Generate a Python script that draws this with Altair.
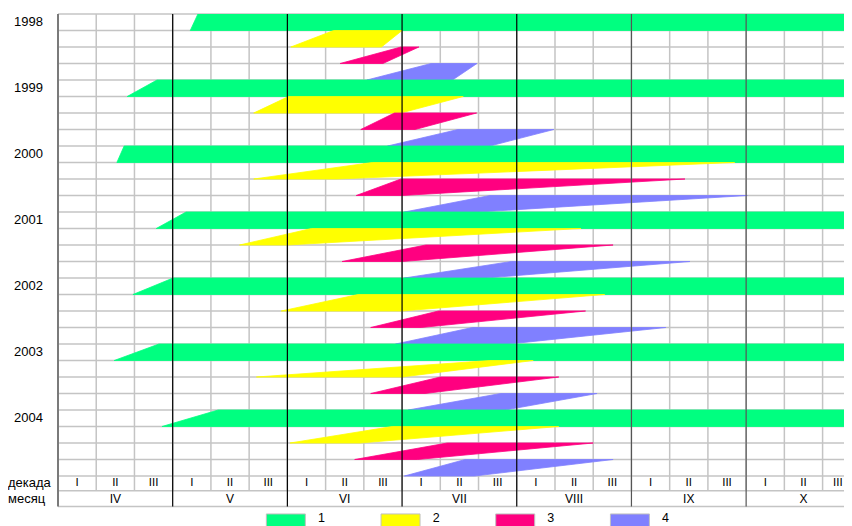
import altair as alt
import pandas as pd

# ---------------- data (positions in decades from 1 April) ----------------
years = ["1998", "1999", "2000", "2001", "2002", "2003", "2004"]
series_names = ["1", "2", "3", "4"]
series_colors = ["#00FF80", "#FFFF00", "#FF0080", "#8080FF"]
season_end = 21.0

# series 1 (green): start at bottom edge / start at top edge, lasts to end of season
s1_bottom_start = [3.46, 1.81, 1.54, 2.57, 1.96, 1.47, 2.72]
s1_top_start = [3.66, 2.59, 1.73, 3.35, 3.01, 2.64, 4.19]

# series 2 (yellow)
s2_bottom_start = [6.09, 5.12, 5.12, 4.75, 5.84, 5.19, 6.07]
s2_top_start = [7.21, 6.03, 8.22, 6.63, 7.85, 11.30, 8.74]
s2_top_end = [9.00, 10.60, 17.70, 13.68, 14.30, 12.43, 13.10]
s2_bottom_end = [8.46, 8.97, 7.30, 6.00, 9.00, 9.00, 7.90]

# series 3 (pink)
s3_bottom_start = [7.38, 7.92, 7.80, 7.43, 8.18, 8.18, 7.76]
s3_top_start = [8.97, 8.80, 8.97, 9.62, 9.95, 10.00, 10.18]
s3_top_end = [9.44, 10.95, 16.40, 14.52, 13.80, 13.10, 14.00]
s3_bottom_end = [8.50, 9.34, 9.00, 9.00, 9.50, 9.60, 9.40]

# series 4 (blue)
s4_bottom_start = [8.08, 8.62, 9.06, 9.06, 8.83, 9.16, 9.06]
s4_top_start = [9.76, 10.46, 11.30, 11.86, 10.84, 11.58, 10.65]
s4_top_end = [10.96, 12.97, 18.03, 16.53, 15.90, 14.10, 14.52]
s4_bottom_end = [10.32, 11.30, 11.00, 11.20, 11.80, 11.70, 10.90]

decade_labels = ["I", "II", "III"]
month_labels = ["IV", "V", "VI", "VII", "VIII", "IX", "X"]
row_labels = ["декада", "месяц"]

# ---------------- layout ----------------
W, H = 786, 495
X_MAX = 20.56
Y_MAX = 30.0
n_rows = len(years) * 4
decade_row_bottom = 28.9
month_row_bottom = 29.85

x_scale = alt.Scale(domain=[0, X_MAX], nice=False, zero=False)
y_scale = alt.Scale(domain=[0, Y_MAX], reverse=True, nice=False, zero=False)

# ---------------- shapes table ----------------
recs = []
groups = [
    (s1_bottom_start, s1_top_start, [season_end] * 7, [season_end] * 7),
    (s2_bottom_start, s2_top_start, s2_top_end, s2_bottom_end),
    (s3_bottom_start, s3_top_start, s3_top_end, s3_bottom_end),
    (s4_bottom_start, s4_top_start, s4_top_end, s4_bottom_end),
]
for yi, yr in enumerate(years):
    for si, (bs, ts, te, be) in enumerate(groups):
        row = yi * 4 + si
        sid = f"{yr}-{si}"
        recs.append(dict(shape=sid, series=series_names[si], y=row + 1, x=bs[yi], x2=be[yi]))
        recs.append(dict(shape=sid, series=series_names[si], y=row, x=ts[yi], x2=te[yi]))
shapes = pd.DataFrame(recs)

color_scale = alt.Scale(domain=series_names, range=series_colors)

areas = alt.Chart(shapes).mark_area(orient="horizontal", clip=True, strokeWidth=0.8,
                                    opacity=1).encode(
    y=alt.Y("y:Q", scale=y_scale, axis=None),
    x=alt.X("x:Q", scale=x_scale, axis=None),
    x2="x2:Q",
    detail="shape:N",
    color=alt.Color("series:N", scale=color_scale, legend=None),
    stroke=alt.Stroke("series:N", scale=color_scale, legend=None),
)

# ---------------- grid ----------------
hlines = pd.DataFrame({"y": list(range(0, n_rows + 1)) + [decade_row_bottom, month_row_bottom]})
h_rules = alt.Chart(hlines).mark_rule(color="#c4c4c4", strokeWidth=1.5).encode(
    y=alt.Y("y:Q", scale=y_scale, axis=None)
)

vgray = pd.DataFrame({"x": list(range(1, 21)), "y0": 0.0, "y1": decade_row_bottom})
v_gray = alt.Chart(vgray).mark_rule(color="#c4c4c4", strokeWidth=1.5, clip=True).encode(
    x=alt.X("x:Q", scale=x_scale, axis=None),
    y=alt.Y("y0:Q", scale=y_scale, axis=None),
    y2="y1:Q",
)

vmonth = pd.DataFrame({"x": [3, 6, 9, 12, 15, 18], "y0": 0.0, "y1": month_row_bottom,
                       "c": ["#000000", "#000000", "#000000", "#000000", "#555555", "#555555"]})
v_month = alt.Chart(vmonth).mark_rule(strokeWidth=1.2).encode(
    x=alt.X("x:Q", scale=x_scale, axis=None),
    y=alt.Y("y0:Q", scale=y_scale, axis=None),
    y2="y1:Q",
    color=alt.Color("c:N", scale=None, legend=None),
)

vleft = pd.DataFrame({"x": [0.0], "y0": [0.0], "y1": [month_row_bottom]})
v_left = alt.Chart(vleft).mark_rule(color="#7a7a7a", strokeWidth=2).encode(
    x=alt.X("x:Q", scale=x_scale, axis=None),
    y=alt.Y("y0:Q", scale=y_scale, axis=None),
    y2="y1:Q",
)

# ---------------- texts ----------------
FONT = "Liberation Sans"
year_df = pd.DataFrame({"label": years, "y": [i * 4 + 0.5 for i in range(len(years))]})
year_text = alt.Chart(year_df).mark_text(align="right", baseline="middle", font=FONT,
                                         fontSize=13, color="#000000").encode(
    x=alt.value(-15),
    y=alt.Y("y:Q", scale=y_scale, axis=None),
    text="label:N",
)

row_df = pd.DataFrame({"label": row_labels,
                       "y": [(n_rows + decade_row_bottom) / 2, (decade_row_bottom + month_row_bottom) / 2]})
row_text = alt.Chart(row_df).mark_text(align="left", baseline="middle", font=FONT,
                                       fontSize=13, color="#000000").encode(
    x=alt.value(-50),
    y=alt.Y("y:Q", scale=y_scale, axis=None),
    text="label:N",
)

# last decade label sits at the cut edge: keep it just inside the plot
dec_df = pd.DataFrame({"label": [decade_labels[i % 3] for i in range(21)],
                       "x": [min(i + 0.5, X_MAX - 0.16) for i in range(21)],
                       "y": (n_rows + decade_row_bottom) / 2})
dec_text = alt.Chart(dec_df).mark_text(align="center", baseline="middle", font=FONT,
                                       fontSize=11.5, color="#000000").encode(
    x=alt.X("x:Q", scale=x_scale, axis=None),
    y=alt.Y("y:Q", scale=y_scale, axis=None),
    text="label:N",
)

mon_df = pd.DataFrame({"label": month_labels,
                       "x": [i * 3 + 1.5 for i in range(len(month_labels))],
                       "y": (decade_row_bottom + month_row_bottom) / 2})
mon_text = alt.Chart(mon_df).mark_text(align="center", baseline="middle", font=FONT,
                                       fontSize=12, color="#000000").encode(
    x=alt.X("x:Q", scale=x_scale, axis=None),
    y=alt.Y("y:Q", scale=y_scale, axis=None),
    text="label:N",
)

# ---------------- legend ----------------
leg_c = [6.0, 9.0, 12.0, 15.0]
leg_df = pd.DataFrame({"series": series_names,
                       "x0": [c - 0.55 for c in leg_c], "x1": [c + 0.47 for c in leg_c],
                       "xt": [c + 0.8 for c in leg_c],
                       "y0": 30.3, "y1": 31.6, "yt": 30.76})
leg_rect = alt.Chart(leg_df).mark_rect(stroke="#c0c0c0", strokeWidth=1).encode(
    x=alt.X("x0:Q", scale=x_scale, axis=None), x2="x1:Q",
    y=alt.Y("y0:Q", scale=y_scale, axis=None), y2="y1:Q",
    color=alt.Color("series:N", scale=color_scale, legend=None),
)
leg_text = alt.Chart(leg_df).mark_text(align="left", baseline="alphabetic", font=FONT,
                                       fontSize=12.5, color="#000000").encode(
    x=alt.X("xt:Q", scale=x_scale, axis=None),
    y=alt.Y("yt:Q", scale=y_scale, axis=None),
    text="series:N",
)

chart = alt.layer(
    v_gray, h_rules, areas, v_month, v_left,
    year_text, row_text, dec_text, mon_text, leg_rect, leg_text,
).properties(
    width=W, height=H,
    autosize=alt.AutoSizeParams(type="none"),
    padding={"left": 50, "top": 6, "right": 0, "bottom": 17},
    background="#ffffff",
).configure_view(stroke=None)

chart.save("out.html", embed_options={"renderer": "svg", "actions": False})
